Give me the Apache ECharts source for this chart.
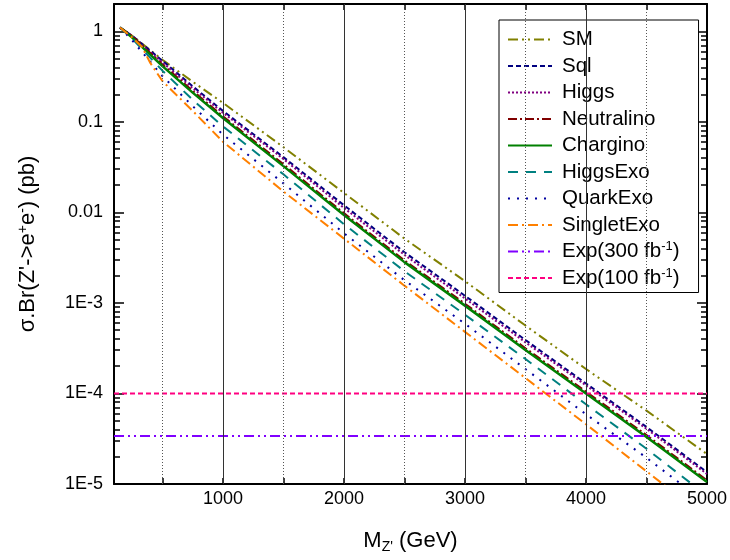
<!DOCTYPE html>
<html>
<head>
<meta charset="utf-8">
<script src="https://cdn.jsdelivr.net/npm/echarts@6/dist/echarts.min.js"></script>
<style>
html,body{margin:0;padding:0;background:#fff;}
#chart{width:730px;height:560px;}
</style>
</head>
<body>
<div id="chart"></div>
<script>
// ---- data ----
const massGrid = [150, 250, 500, 750, 1000, 1500, 2000, 2500, 3000, 3500, 4000, 4500, 5000];
const smXS         = [1.10, 0.891, 0.484, 0.277, 0.162, 0.0525, 0.0164, 0.00513, 0.00174, 5.62e-4, 1.86e-4, 6.46e-5, 2.14e-5];
const sqlXS        = [1.10, 0.891, 0.473, 0.247, 0.132, 0.0407, 0.0120, 0.00363, 0.00120, 3.89e-4, 1.29e-4, 4.27e-5, 1.35e-5];
const higgsXS      = [1.10, 0.871, 0.452, 0.236, 0.126, 0.0389, 0.0112, 0.00339, 0.00112, 3.67e-4, 1.23e-4, 4.07e-5, 1.29e-5];
const neutralinoXS = [1.10, 0.890, 0.430, 0.220, 0.115, 0.0340, 0.0098, 0.00295, 9.80e-4, 3.16e-4, 1.05e-4, 3.47e-5, 1.10e-5];
const charginoXS   = [1.10, 0.851, 0.412, 0.210, 0.110, 0.0324, 0.00933, 0.00282, 9.33e-4, 3.02e-4, 1.00e-4, 3.31e-5, 1.05e-5];
const higgsExoXS   = [1.10, 0.832, 0.367, 0.175, 0.0891, 0.0263, 0.00741, 0.00224, 7.41e-4, 2.40e-4, 7.59e-5, 2.45e-5, 7.41e-6];
const quarkExoXS   = [1.10, 0.794, 0.320, 0.149, 0.0724, 0.0209, 0.00589, 0.00178, 5.89e-4, 1.86e-4, 5.89e-5, 1.95e-5, 6.03e-6];
const singletMass  = [150, 250, 330, 400, 500, 750, 1000, 1500, 2000, 2500, 3000, 3500, 4000, 4500, 5000];
const singletExoXS = [1.10, 0.851, 0.676, 0.447, 0.282, 0.132, 0.0603, 0.0170, 0.00513, 0.00155, 4.79e-4, 1.48e-4, 4.57e-5, 1.38e-5, 4.17e-6];
const expMass   = [100, 5000];
const exp300XS  = [3.4e-5, 3.4e-5];
const exp100XS  = [1.0e-4, 1.0e-4];

const seriesNames = ['SM', 'Sql', 'Higgs', 'Neutralino', 'Chargino', 'HiggsExo', 'QuarkExo', 'SingletExo', 'Exp(300 fb-1)', 'Exp(100 fb-1)'];

const xTickValues = [500, 1000, 1500, 2000, 2500, 3000, 3500, 4000, 4500];
const xLabelValues = [1000, 2000, 3000, 4000, 5000];
const xMajorGrid = [1000, 2000, 3000, 4000];
const xMinorGrid = [500, 1500, 2500, 3500, 4500];
const yTickValues = [1e-5, 1e-4, 1e-3, 0.01, 0.1, 1];
const yTickLabels = ['1E-5', '1E-4', '1E-3', '0.01', '0.1', '1'];

// ---- build ----
const FONT = 'Liberation Sans, Arial, sans-serif';
function pairs(xs, ys) { return xs.map((x, i) => [x, ys[i]]); }

function lineSeries(name, xs, ys, color, type, width) {
  return {
    name: name, type: 'line', data: pairs(xs, ys),
    symbol: 'none', showSymbol: false, smooth: false, z: 3,
    lineStyle: { color: color, width: width || 2, type: type },
    itemStyle: { color: color },
    emphasis: { disabled: true }
  };
}

const series = [
  lineSeries('SM', massGrid, smXS, '#808000', [10, 4, 2, 4, 2, 4]),
  lineSeries('Sql', massGrid, sqlXS, '#000080', [5, 3]),
  lineSeries('Higgs', massGrid, higgsXS, '#800080', [2, 2]),
  lineSeries('Neutralino', massGrid, neutralinoXS, '#800000', [9, 3, 2, 3]),
  lineSeries('Chargino', massGrid, charginoXS, '#008000', 'solid', 2.5),
  lineSeries('HiggsExo', massGrid, higgsExoXS, '#008080', [10, 8]),
  lineSeries('QuarkExo', massGrid, quarkExoXS, '#0000A0', [2, 7]),
  lineSeries('SingletExo', singletMass, singletExoXS, '#FF8000', [10, 4, 2, 4]),
  lineSeries('Exp(300 fb-1)', expMass, exp300XS, '#8000FF', [10, 4, 2, 4, 2, 4]),
  lineSeries('Exp(100 fb-1)', expMass, exp100XS, '#FF0080', [5, 3]),
  {
    name: 'grid', type: 'line', data: [], z: 1, silent: true,
    markLine: {
      silent: true, symbol: ['none', 'none'], label: { show: false }, animation: false,
      data: xMajorGrid.map(v => ({ xAxis: v, lineStyle: { color: '#333', width: 1, type: 'solid' } }))
        .concat(xMinorGrid.map(v => ({ xAxis: v, lineStyle: { color: '#555', width: 1, type: [1, 2] } })))
    }
  }
];

function yLabel(v) {
  for (let i = 0; i < yTickValues.length; i++) {
    if (Math.abs(Math.log10(v) - Math.log10(yTickValues[i])) < 1e-6) return yTickLabels[i];
  }
  return '';
}

const chart = echarts.init(document.getElementById('chart'), null, { renderer: 'canvas' });
chart.setOption({
  animation: false,
  backgroundColor: '#fff',
  grid: { left: 114, right: 18, top: 4, bottom: 76, containLabel: false },
  legend: {
    data: seriesNames,
    orient: 'vertical', left: 499, top: 20,
    backgroundColor: '#fff', borderColor: '#000', borderWidth: 1, borderRadius: 0,
    padding: [8, 19, 3, 8],
    itemWidth: 44, itemHeight: 14, itemGap: 3.5,
    selectedMode: false,
    itemStyle: { opacity: 0, borderWidth: 0 },
    formatter: function (name) {
      return name.replace(/ fb-1/, ' fb{sup|-1}');
    },
    textStyle: {
      fontFamily: FONT, fontSize: 20.5, color: '#000', lineHeight: 23, padding: [0, 0, 0, 5],
      rich: { sup: { fontFamily: FONT, fontSize: 13, color: '#000', verticalAlign: 'top', lineHeight: 13 } }
    }
  },
  xAxis: [{
    type: 'value', min: 100, max: 5000, position: 'bottom',
    axisLine: { show: true, onZero: false, lineStyle: { color: '#000', width: 2 } },
    axisTick: { show: true, inside: true, length: 6, customValues: xTickValues, lineStyle: { color: '#000', width: 1.5 } },
    axisLabel: { show: true, customValues: xLabelValues, margin: 6, fontFamily: FONT, fontSize: 18, color: '#000',
      formatter: function (v) { return String(v); } },
    splitLine: { show: false },
    name: 'M{sub|Z\'} (GeV)', nameLocation: 'middle', nameGap: 44,
    nameTextStyle: { fontFamily: FONT, fontSize: 22, color: '#000',
      rich: { sub: { fontFamily: FONT, fontSize: 14, color: '#000', verticalAlign: 'bottom', padding: [12, 0, 0, 0] } } }
  }, {
    type: 'value', min: 100, max: 5000, position: 'top',
    axisLine: { show: true, onZero: false, lineStyle: { color: '#000', width: 2 } },
    axisTick: { show: true, inside: true, length: 6, customValues: xTickValues, lineStyle: { color: '#000', width: 1.5 } },
    axisLabel: { show: false },
    splitLine: { show: false }
  }],
  yAxis: [{
    type: 'log', logBase: 10, min: 1e-5, max: 2, position: 'left',
    axisLine: { show: true, onZero: false, lineStyle: { color: '#000', width: 2 } },
    axisTick: { show: true, inside: true, length: 10, lineStyle: { color: '#000', width: 1.5 } },
    minorTick: { show: true, splitNumber: 9, length: 6, lineStyle: { color: '#000', width: 1.5 } },
    axisLabel: { show: true, margin: 11, formatter: yLabel, fontFamily: FONT, fontSize: 18, color: '#000', showMaxLabel: false },
    splitLine: { show: false },
    name: 'σ.Br(Z\'->e{sup|+}e{sup|-}) (pb)', nameLocation: 'middle', nameGap: 74, nameRotate: 90,
    nameTextStyle: { fontFamily: FONT, fontSize: 22, color: '#000',
      rich: { sup: { fontFamily: FONT, fontSize: 14, color: '#000', verticalAlign: 'top', padding: [0, 0, 10, 0] } } }
  }, {
    type: 'log', logBase: 10, min: 1e-5, max: 2, position: 'right',
    axisLine: { show: true, onZero: false, lineStyle: { color: '#000', width: 2 } },
    axisTick: { show: true, inside: true, length: 10, lineStyle: { color: '#000', width: 1.5 } },
    minorTick: { show: true, splitNumber: 9, length: 6, lineStyle: { color: '#000', width: 1.5 } },
    axisLabel: { show: false },
    splitLine: { show: false }
  }],
  series: series
});
</script>
</body>
</html>
